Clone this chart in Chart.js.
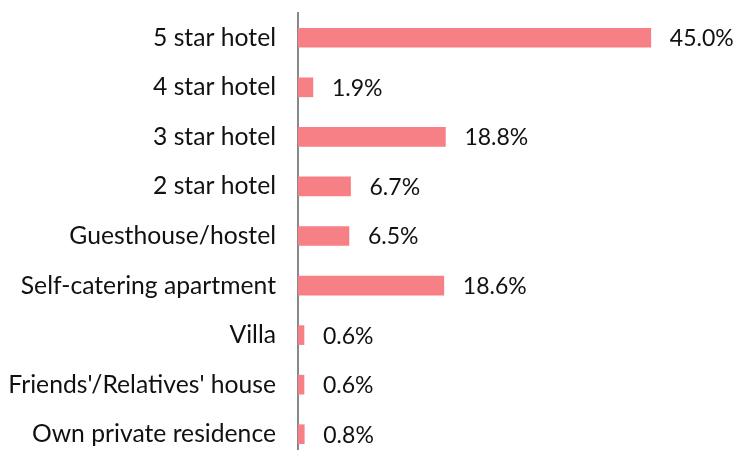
<!DOCTYPE html>
<html><head><meta charset="utf-8">
<script src="https://cdn.jsdelivr.net/npm/chart.js@4/dist/chart.umd.min.js"></script>
<style>html,body{margin:0;padding:0;background:#fff;overflow:hidden;height:450px}
#wrap{position:relative;width:737px;height:459px}</style>
</head><body><div id="wrap"><canvas id="c"></canvas></div>
<script>
const categories = ["5 star hotel","4 star hotel","3 star hotel","2 star hotel","Guesthouse/hostel","Self-catering apartment","Villa","Friends'/Relatives' house","Own private residence"];
const values = [45.0,1.9,18.8,6.7,6.5,18.6,0.6,0.6,0.8];
const valueLabels = ["45.0%","1.9%","18.8%","6.7%","6.5%","18.6%","0.6%","0.6%","0.8%"];

const FONT = "Lato, 'Open Sans', sans-serif";
const labelPlugin = {
  id:'vlabels',
  afterDatasetsDraw(chart){
    const ctx = chart.ctx;
    const meta = chart.getDatasetMeta(0);
    ctx.save();
    ctx.font = "23px " + FONT;
    ctx.fillStyle = "#111";
    ctx.textBaseline = "middle";
    ctx.textAlign = "left";
    meta.data.forEach((bar,i)=>{
      ctx.fillText(valueLabels[i], Math.max(bar.x, chart.chartArea.left+6) + 19, bar.y+1);
    });
    ctx.restore();
  }
};

new Chart(document.getElementById('c'), {
  type:'bar',
  data:{labels:categories, datasets:[{data:values, backgroundColor:'#F77F86', barThickness:19, minBarLength:6}]},
  options:{
    indexAxis:'y', responsive:true, maintainAspectRatio:false, animation:false,
    layout:{padding:{top:13,bottom:0,left:0,right:47}},
    plugins:{legend:{display:false},tooltip:{enabled:false}},
    scales:{
      x:{min:0,max:50,display:false,grid:{display:false}},
      y:{
        afterFit(s){s.width=298; s.paddingTop=0; s.paddingBottom=0;},
        grid:{display:false,drawTicks:false},
        border:{display:true,color:'#888888',width:2},
        ticks:{color:'#111',font:{family:FONT,size:24.7},padding:22,autoSkip:false}
      }
    }
  },
  plugins:[labelPlugin]
});
</script></body></html>
